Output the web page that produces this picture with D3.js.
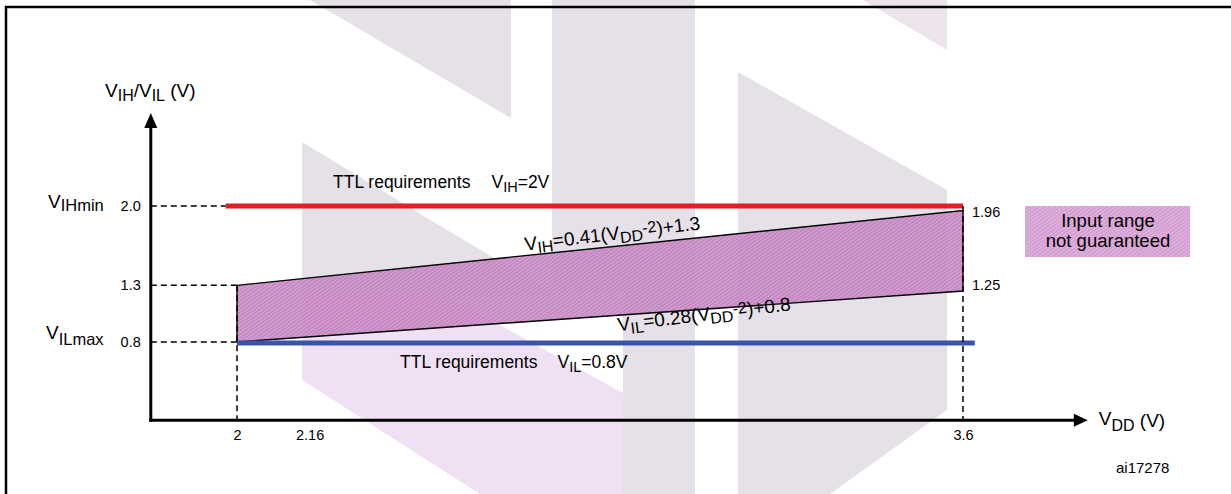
<!DOCTYPE html>
<html>
<head>
<meta charset="utf-8">
<script src="https://cdn.jsdelivr.net/npm/d3@7"></script>
<style>
  html, body { margin: 0; padding: 0; background: #fff; }
  svg { display: block; font-family: "Liberation Sans", Arial, Helvetica, sans-serif; }
</style>
</head>
<body>
<svg id="chart" width="1231" height="494"></svg>
<script>
// ---------------- data ----------------
const vddRange = [2, 3.6];               // VDD span of the shaded band
const vihValues = [1.3, 1.96];           // V_IH = 0.41(VDD-2)+1.3 at VDD = 2, 3.6
const vilValues = [0.8, 1.25];           // V_IL = 0.28(VDD-2)+0.8 at VDD = 2, 3.6
const ttlVIH = 2.0;                      // TTL requirement V_IH
const ttlVIL = 0.8;                      // TTL requirement V_IL
const ttlVIHSpan = [1.975, 3.6];
const ttlVILSpan = [2, 3.626];
const xTickValues = [2, 2.16, 3.6];
const xTickLabels = ["2", "2.16", "3.6"];
const yTickValues = [2.0, 1.3, 0.8];
const yTickLabels = ["2.0", "1.3", "0.8"];
const rightLabels = ["1.96", "1.25"];
const axisXExtent = [1.81, 3.875];
const axisYExtent = [0.11, 2.82];

// ---------------- scales ----------------
const x = d3.scaleLinear().domain([2, 3.6]).range([237, 963]);
const y = d3.scaleLinear().domain([0.8, 2.0]).range([342, 206]);

const svg = d3.select("#chart");
const defs = svg.append("defs");

function hatch(id, base, line) {
  const p = defs.append("pattern").attr("id", id).attr("patternUnits", "userSpaceOnUse")
    .attr("width", 3).attr("height", 3).attr("patternTransform", "rotate(-35)");
  p.append("rect").attr("width", 3).attr("height", 3).attr("fill", base);
  p.append("line").attr("x1", 0).attr("y1", 0.5).attr("x2", 3).attr("y2", 0.5)
    .attr("stroke", line).attr("stroke-width", 1);
}
hatch("hatchBand", "#cf93cc", "#b877b6");
hatch("hatchLegend", "#ddaedb", "#cf98cc");

// ---------------- watermark (ST logo, faint) ----------------
const wm = svg.append("g").attr("class", "watermark");
const grey = "#e6e1e8", lav = "#efe1f3";
const wmShapes = [
  {c: grey, p: [[310,0],[511,0],[511,118]]},
  {c: grey, p: [[552,0],[623,0],[623,292],[552,292]]},
  {c: grey, p: [[623,0],[695,0],[695,494],[623,494]]},
  {c: grey, p: [[302,142],[447,230],[552,292],[552,296],[302,296]]},
  {c: lav,  p: [[302,296],[447,296],[623,393],[623,494],[480,494],[302,380]]},
  {c: grey, p: [[738,72],[947,190],[947,410],[830,494],[738,494]]},
  {c: "#ece3ec", p: [[863,0],[947,0],[947,50]]}
];
wm.selectAll("polygon").data(wmShapes).join("polygon")
  .attr("points", d => d.p.map(q => q.join(",")).join(" "))
  .attr("fill", d => d.c);

// ---------------- frame ----------------
svg.append("path").attr("d", "M6,494 V7 H1231").attr("fill", "none")
  .attr("stroke", "#000").attr("stroke-width", 2.5);

// ---------------- shaded band ----------------
const band = [
  [vddRange[0], vihValues[0]], [vddRange[1], vihValues[1]],
  [vddRange[1], vilValues[1]], [vddRange[0], vilValues[0]]
];
svg.append("polygon")
  .attr("points", band.map(d => [x(d[0]), y(d[1])].join(",")).join(" "))
  .attr("fill", "url(#hatchBand)").attr("fill-opacity", 0.92)
  .attr("stroke", "#000").attr("stroke-width", 1.4);

// ---------------- TTL lines ----------------
svg.append("line").attr("x1", x(ttlVIHSpan[0])).attr("x2", x(ttlVIHSpan[1]))
  .attr("y1", y(ttlVIH)).attr("y2", y(ttlVIH))
  .attr("stroke", "#e41e26").attr("stroke-width", 5);
svg.append("line").attr("x1", x(ttlVILSpan[0])).attr("x2", x(ttlVILSpan[1]))
  .attr("y1", y(ttlVIL) + 1).attr("y2", y(ttlVIL) + 1)
  .attr("stroke", "#3a54a6").attr("stroke-width", 5);

// ---------------- dashed guides ----------------
const dash = "6,4";
const guides = [
  [[axisXExtent[0], ttlVIH], [ttlVIHSpan[0], ttlVIH]],
  [[axisXExtent[0], vihValues[0]], [vddRange[0], vihValues[0]]],
  [[axisXExtent[0], vilValues[0]], [vddRange[0], vilValues[0]]],
  [[vddRange[0], vihValues[0]], [vddRange[0], axisYExtent[0]]],
  [[vddRange[1], ttlVIH], [vddRange[1], axisYExtent[0]]]
];
svg.append("g").selectAll("line").data(guides).join("line")
  .attr("x1", d => x(d[0][0])).attr("y1", d => y(d[0][1]))
  .attr("x2", d => x(d[1][0])).attr("y2", d => y(d[1][1]))
  .attr("stroke", "#000").attr("stroke-width", 1.5).attr("stroke-dasharray", dash);

// ---------------- axes ----------------
const x0 = x(axisXExtent[0]), y0 = y(axisYExtent[0]);
const xEnd = x(axisXExtent[1]), yEnd = y(axisYExtent[1]);
svg.append("line").attr("x1", x0 - 1.5).attr("x2", xEnd - 12).attr("y1", y0).attr("y2", y0)
  .attr("stroke", "#000").attr("stroke-width", 3);
svg.append("line").attr("x1", x0).attr("x2", x0).attr("y1", y0 + 1.5).attr("y2", yEnd + 12)
  .attr("stroke", "#000").attr("stroke-width", 3);
svg.append("path").attr("d", `M${xEnd},${y0} L${xEnd - 14},${y0 - 6.5} L${xEnd - 14},${y0 + 6.5} Z`).attr("fill", "#000");
svg.append("path").attr("d", `M${x0},${yEnd} L${x0 - 6.5},${yEnd + 15} L${x0 + 6.5},${yEnd + 15} Z`).attr("fill", "#000");

const xAxis = d3.axisBottom(x).tickValues(xTickValues).tickSize(0).tickPadding(10)
  .tickFormat((d, i) => xTickLabels[i]);
const gx = svg.append("g").attr("transform", `translate(0,${y0})`).call(xAxis);
gx.select(".domain").remove();
gx.selectAll("text").attr("font-size", 14.5).attr("font-family", null).attr("fill", "#000");

const yAxis = d3.axisLeft(y).tickValues(yTickValues).tickSize(0).tickPadding(10)
  .tickFormat((d, i) => yTickLabels[i]);
const gy = svg.append("g").attr("transform", `translate(${x0},0)`).call(yAxis);
gy.select(".domain").remove();
gy.selectAll("text").attr("font-size", 14.5).attr("font-family", null).attr("fill", "#000");

// right-side value labels
svg.append("g").selectAll("text").data([vihValues[1], vilValues[1]]).join("text")
  .attr("x", x(vddRange[1]) + 9).attr("y", d => y(d))
  .attr("dy", (d, i) => i === 0 ? 6 : -1)
  .attr("font-size", 14.5).text((d, i) => rightLabels[i]);

// ---------------- rich text helper ----------------
function rich(parent, parts, attrs) {
  const t = parent.append("text");
  Object.entries(attrs).forEach(([k, v]) => t.attr(k, v));
  let cur = 0;
  parts.forEach(p => {
    const shift = (p.shift || 0) - cur;
    const ts = t.append("tspan").attr("dy", shift).attr("font-size", p.size).text(p.t);
    if (p.dx) ts.attr("dx", p.dx);
    cur = p.shift || 0;
  });
  return t;
}
const BIG = 19, SUB = 16;

// axis titles
rich(svg, [{t: "V", size: 19}, {t: "IH", size: 16, shift: 4}, {t: "/V", size: 19},
           {t: "IL", size: 16, shift: 4}, {t: " (V)", size: 19}], {x: 105, y: 97});
rich(svg, [{t: "V", size: 19}, {t: "DD", size: 16, shift: 6}, {t: " (V)", size: 19, shift: 2}],
     {x: xEnd + 11, y: y0 + 5});

// left names
rich(svg, [{t: "V", size: 19}, {t: "IHmin", size: 16.5, shift: 3}], {x: 48, y: y(ttlVIH) + 2});
rich(svg, [{t: "V", size: 19}, {t: "ILmax", size: 16.5, shift: 6}], {x: 46, y: y(ttlVIL) - 3});

// TTL requirement labels
rich(svg, [{t: "TTL requirements", size: 17.5}, {t: "V", size: 17.5, dx: 21}, {t: "IH", size: 14.5, shift: 4},
           {t: "=2V", size: 17.5}], {x: x(2) + 96, y: y(ttlVIH) - 18});
rich(svg, [{t: "TTL requirements", size: 17.5}, {t: "V", size: 17.5, dx: 20}, {t: "IL", size: 14.5, shift: 4},
           {t: "=0.8V", size: 17.5}], {x: x(2) + 163, y: y(ttlVIL) + 26});

// formulas along the band edges
const ang = Math.atan2(y(vihValues[1]) - y(vihValues[0]), x(vddRange[1]) - x(vddRange[0])) * 180 / Math.PI - 1;
const vihAt = v => vihValues[0] + (vihValues[1] - vihValues[0]) * (v - vddRange[0]) / (vddRange[1] - vddRange[0]);
const vilAt = v => vilValues[0] + (vilValues[1] - vilValues[0]) * (v - vddRange[0]) / (vddRange[1] - vddRange[0]);
const f1x = 2.635, f2x = 2.84;
rich(svg, [{t: "V", size: BIG}, {t: "IH", size: SUB, shift: 4}, {t: "=0.41(V", size: BIG},
           {t: "DD", size: SUB, shift: 4}, {t: "-2", size: SUB, shift: -3}, {t: ")+1.3", size: BIG}],
     {transform: `translate(${x(f1x)},${y(vihAt(f1x)) - 5}) rotate(${ang})`});
rich(svg, [{t: "V", size: BIG}, {t: "IL", size: SUB, shift: 4}, {t: "=0.28(V", size: BIG},
           {t: "DD", size: SUB, shift: 4}, {t: "-2", size: SUB, shift: -3}, {t: ")+0.8", size: BIG}],
     {transform: `translate(${x(f2x)},${y(vilAt(f2x)) + 16}) rotate(${ang})`});

// legend
const lg = svg.append("g");
lg.append("rect").attr("x", 1025).attr("y", 206).attr("width", 165).attr("height", 51)
  .attr("fill", "url(#hatchLegend)");
lg.append("text").attr("x", 1108).attr("y", 227).attr("text-anchor", "middle")
  .attr("font-size", 18.5).text("Input range");
lg.append("text").attr("x", 1108).attr("y", 247).attr("text-anchor", "middle")
  .attr("font-size", 18.5).text("not guaranteed");

// figure id
svg.append("text").attr("x", 1116).attr("y", 473).attr("font-size", 15).text("ai17278");
</script>
</body>
</html>
